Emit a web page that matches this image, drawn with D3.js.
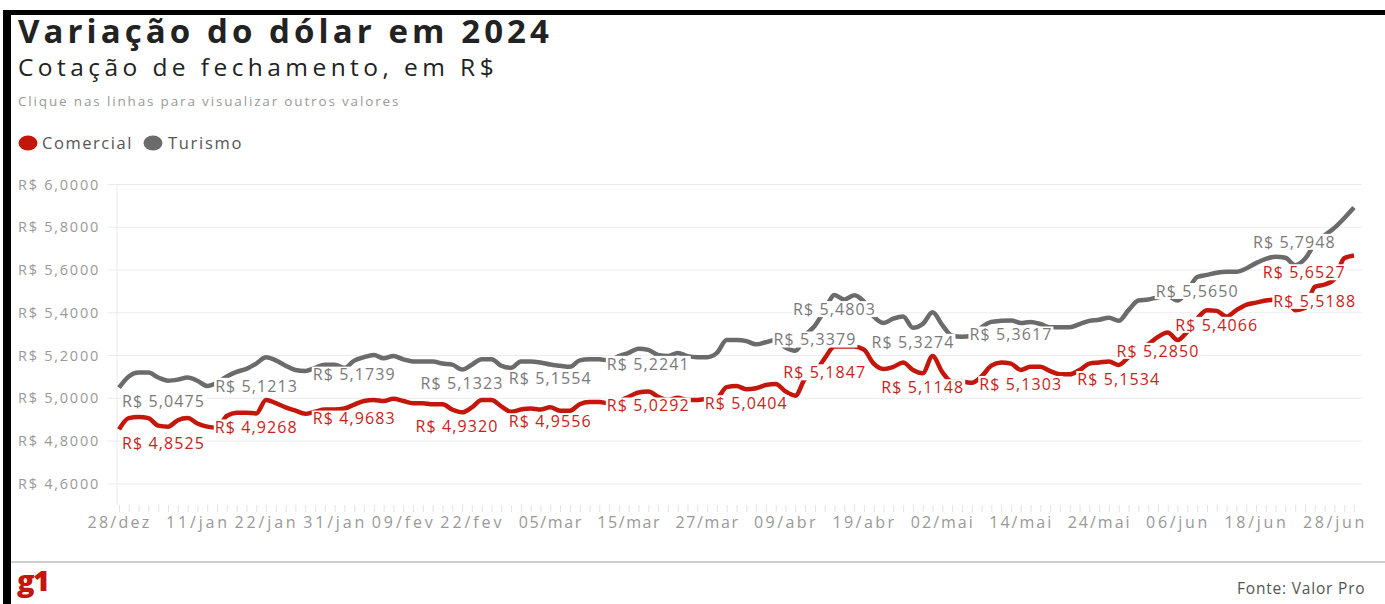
<!DOCTYPE html>
<html><head><meta charset="utf-8">
<script src="https://cdn.jsdelivr.net/npm/d3@7"></script>
<style>
body{margin:0;background:#fff;overflow:hidden}
svg{display:block}
text{font-family:'Open Sans',sans-serif}
</style>
</head><body>
<svg id="c" width="1385" height="604"></svg>
<script>
// ---------- DATA ----------
const tickLabels = ["28/dez","11/jan","22/jan","31/jan","09/fev","22/fev","05/mar","15/mar","27/mar","09/abr","19/abr","02/mai","14/mai","24/mai","06/jun","18/jun","28/jun"];
const tickIdx = [0,8,15,22,29,36,44,52,60,68,76,84,92,100,108,116,124];
const yTicks = [4.6,4.8,5.0,5.2,5.4,5.6,5.8,6.0];
const seriesNames = ["Comercial","Turismo"];

const comercial = [
4.8525,4.905,4.91,4.905,4.87,4.865,4.895,4.905,4.88,4.865,
4.86,4.915,4.93,4.93,4.9268,4.99,4.975,4.955,4.94,4.925,
4.935,4.945,4.945,4.95,4.9683,4.985,4.99,4.985,4.995,4.985,
4.975,4.975,4.97,4.97,4.945,4.932,4.955,4.99,4.99,4.96,
4.935,4.945,4.95,4.945,4.9556,4.94,4.94,4.97,4.98,4.98,
4.975,4.985,5.005,5.025,5.0292,5.005,4.99,5.00,4.99,4.99,
4.995,5.00,5.05,5.055,5.0404,5.045,5.06,5.065,5.03,5.01,
5.09,5.12,5.1847,5.24,5.24,5.24,5.225,5.16,5.135,5.145,
5.165,5.13,5.1148,5.195,5.12,5.075,5.075,5.07,5.10,5.15,
5.165,5.16,5.1303,5.145,5.145,5.125,5.11,5.11,5.13,5.16,
5.165,5.17,5.1534,5.19,5.22,5.25,5.285,5.305,5.27,5.31,
5.37,5.41,5.4066,5.38,5.41,5.435,5.445,5.455,5.46,5.47,
5.41,5.42,5.5188,5.53,5.555,5.6527,5.666];

const turismo = [
5.0475,5.10,5.118,5.118,5.095,5.08,5.085,5.095,5.08,5.055,
5.07,5.10,5.1213,5.135,5.16,5.19,5.175,5.15,5.13,5.125,
5.14,5.155,5.155,5.14,5.1739,5.19,5.20,5.185,5.195,5.18,
5.17,5.17,5.17,5.16,5.155,5.1323,5.155,5.18,5.18,5.15,
5.14,5.17,5.17,5.165,5.1554,5.15,5.145,5.175,5.18,5.18,
5.175,5.195,5.21,5.23,5.2241,5.20,5.195,5.21,5.195,5.19,
5.19,5.21,5.27,5.27,5.265,5.25,5.26,5.27,5.235,5.22,
5.29,5.3379,5.41,5.4803,5.46,5.48,5.45,5.38,5.35,5.37,
5.38,5.3274,5.345,5.40,5.34,5.29,5.285,5.29,5.33,5.355,
5.36,5.3617,5.35,5.355,5.345,5.33,5.33,5.33,5.345,5.36,
5.365,5.375,5.36,5.41,5.455,5.46,5.47,5.475,5.455,5.50,
5.565,5.575,5.585,5.59,5.59,5.605,5.63,5.65,5.66,5.655,
5.62,5.65,5.72,5.76,5.7948,5.84,5.89];

// indices of points that carry a value label
const labelIdxComercial = [0,14,24,35,44,54,64,72,82,92,102,106,112,122,125];
const labelIdxTurismo   = [0,12,24,35,44,54,71,73,81,91,110,124];

// ---------- LAYOUT ----------
const svg = d3.select("#c");
const W = 1385, H = 604;
const RED = "#c4170c", GRAY = "#6b6b6b";
svg.append("rect").attr("width",W).attr("height",H).attr("fill","#fff");

function fitSpacing(t, w){
  const cur = t.node().getComputedTextLength();
  const n = t.text().length;
  t.attr("letter-spacing", ((w-cur)/n).toFixed(2));
}

// frame (black border of the screenshot)
svg.append("rect").attr("x",3).attr("y",10).attr("width",W).attr("height",5).attr("fill","#000");
svg.append("rect").attr("x",3).attr("y",10).attr("width",8).attr("height",H).attr("fill","#000");

// titles
const t1 = svg.append("text").attr("x",18).attr("y",43).attr("font-weight",700).attr("font-size",33)
  .attr("fill","#222").text("Variação do dólar em 2024");
fitSpacing(t1, 535);
const t2 = svg.append("text").attr("x",18).attr("y",76).attr("font-size",24.5)
  .attr("fill","#222").text("Cotação de fechamento, em R$");
fitSpacing(t2, 480);
const t3 = svg.append("text").attr("x",18).attr("y",106).attr("font-size",13.5)
  .attr("fill","#999").text("Clique nas linhas para visualizar outros valores");
fitSpacing(t3, 382);

// legend
const legX = [28,153], legTX=[42,168], legW=[91,75], legC=[RED,GRAY];
seriesNames.forEach((s,i)=>{
  svg.append("ellipse").attr("cx",legX[i]).attr("cy",143).attr("rx",9.5).attr("ry",7.5).attr("fill",legC[i]);
  const t = svg.append("text").attr("x",legTX[i]).attr("y",148.5).attr("font-size",16.5).attr("fill","#555").text(s);
  fitSpacing(t, legW[i]);
});

// scales
const x = d3.scaleLinear().domain([0, comercial.length-1]).range([119, 1354]);
const y = d3.scaleLinear().domain([4.5, 6.0]).range([504.7, 184]);
const fmt = v => "R$ " + d3.format(".4f")(v).replace(".", ",");

// grid
const grid = svg.append("g").attr("transform","translate(1362,0)")
  .call(d3.axisLeft(y).tickValues(yTicks).tickSize(1362-107).tickFormat(""));
grid.select(".domain").remove();
grid.selectAll("line").attr("stroke","#ececec");
svg.append("line").attr("x1",117).attr("x2",117).attr("y1",184).attr("y2",504).attr("stroke","#ececec");

// y labels
const ya = svg.append("g").attr("transform","translate(18,0)")
  .call(d3.axisLeft(y).tickValues(yTicks).tickSize(0).tickFormat(fmt));
ya.select(".domain").remove();
ya.selectAll("text").attr("text-anchor","start").attr("x",0).attr("dy","0.35em")
  .attr("font-family","'Open Sans',sans-serif").attr("font-size",14.5).attr("fill","#999")
  .each(function(){ fitSpacing(d3.select(this), 82); });

// x small ticks at every point
const xt = svg.append("g").attr("transform","translate(0,505)")
  .call(d3.axisBottom(x).tickValues(d3.range(comercial.length)).tickSize(7).tickFormat(""));
xt.select(".domain").remove();
xt.selectAll("line").attr("stroke","#e4e4e4");

// x labels
const xa = svg.append("g").attr("transform","translate(0,505)")
  .call(d3.axisBottom(x).tickValues(tickIdx).tickSize(0).tickFormat((d,i)=>tickLabels[i]));
xa.select(".domain").remove();
xa.selectAll("text").attr("y",23).attr("dy",0)
  .attr("font-family","'Open Sans',sans-serif").attr("font-size",16).attr("fill","#999")
  .each(function(){ fitSpacing(d3.select(this), 64); });

// lines
const line = d3.line().x((d,i)=>x(i)).y(d=>y(d)).curve(d3.curveMonotoneX);
[[comercial,RED],[turismo,GRAY]].forEach(([data,c])=>{
  svg.append("path").datum(data).attr("d",line).attr("fill","none")
    .attr("stroke",c).attr("stroke-width",4.5).attr("stroke-linejoin","round");
});

// value labels (white box behind, centred under the point)
const labelShift = {"Comercial":{0:"start",35:-5,125:-40}, "Turismo":{0:"start",12:20,124:-40}};
const labelSets = [["Comercial",comercial,labelIdxComercial,"#c8231a"],["Turismo",turismo,labelIdxTurismo,"#7a7a7a"]];
const lg = svg.append("g");
labelSets.forEach(([name,data,idxs,col])=>{
  idxs.forEach(i=>{
    const g = lg.append("g");
    const sh = labelShift[name][i];
    const cy = y(data[i]) + 14;
    const t = g.append("text").attr("font-size",16).attr("fill",col).attr("y",cy+5.7).text(fmt(data[i]));
    fitSpacing(t, 83);
    if (sh === "start") { t.attr("x", x(i)+3).attr("text-anchor","start"); }
    else { t.attr("x", x(i) + (sh||0)).attr("text-anchor","middle"); }
    const b = t.node().getBBox();
    g.insert("rect","text").attr("x",b.x-1).attr("y",cy-8).attr("width",b.width+2).attr("height",16).attr("fill","#fff");
  });
});

// footer
svg.append("line").attr("x1",11).attr("x2",W).attr("y1",562).attr("y2",562).attr("stroke","#cfcfcf").attr("stroke-width",2);
svg.append("text").attr("x",17).attr("y",591).attr("font-size",29).attr("font-weight",800)
  .attr("fill","#c4170c").attr("letter-spacing",-1.5).text("g1");
svg.append("text").attr("x",1237).attr("y",594).attr("font-size",15.5).attr("fill","#555")
  .attr("letter-spacing",0.8).text("Fonte: Valor Pro");
</script>
</body></html>
